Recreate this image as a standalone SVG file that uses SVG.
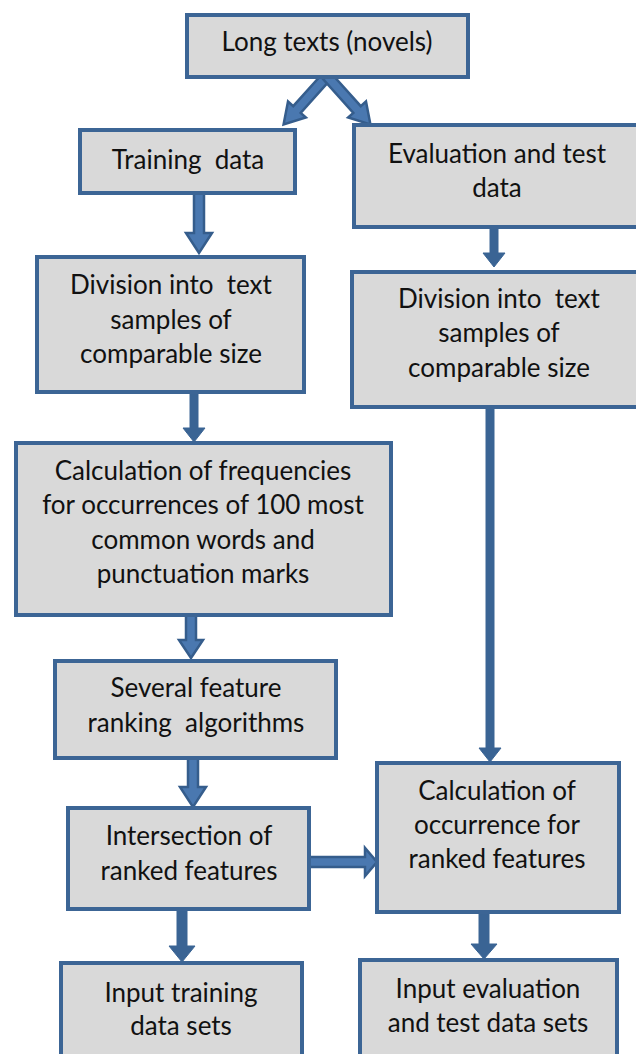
<svg xmlns="http://www.w3.org/2000/svg" width="636" height="1054" viewBox="0 0 636 1054">
<style>
.box{fill:#d9d9d9;stroke:#3c6595;stroke-width:4}
.t{font-family:Lato,"Liberation Sans",sans-serif;font-size:26px;fill:#111;text-anchor:middle;white-space:pre}
.arr{fill:#4a78b0;stroke:#355d8c;stroke-width:2.5;stroke-linejoin:miter}
.arrs{fill:#3a6494;stroke:#3a6494;stroke-width:1}
</style>
<rect width="636" height="1054" fill="#ffffff"/>
<g id="connectors">
  <path class="arr" transform="translate(327,76) rotate(41.9)" d="M -5 0 L 5 0 L 5 45 L 12 45 L 0 65 L -12 45 L -5 45 Z"/>
  <path class="arr" transform="translate(327,76) rotate(-41.9)" d="M -5 0 L 5 0 L 5 45 L 12 45 L 0 65 L -12 45 L -5 45 Z"/>
  <path class="arr" d="M 194 193 L 204 193 L 204 233 L 212 233 L 199 253 L 186 233 L 194 233 Z"/>
  <path class="arrs" d="M 490 228 L 498 228 L 498 253 L 505 253 L 494 267 L 483 253 L 490 253 Z"/>
  <path class="arrs" d="M 190 392 L 198 392 L 198 428 L 205 428 L 194 442 L 183 428 L 190 428 Z"/>
  <path class="arrs" d="M 486 407 L 494 407 L 494 748 L 501 748 L 490 762 L 479 748 L 486 748 Z"/>
  <path class="arr" d="M 186 615 L 196 615 L 196 640 L 203 640 L 191 658 L 179 640 L 186 640 Z"/>
  <path class="arr" d="M 188 758 L 198 758 L 198 787 L 206 787 L 193 807 L 180 787 L 188 787 Z"/>
  <path class="arr" d="M 309 857 L 365 857 L 365 848 L 377 862 L 365 876 L 365 867 L 309 867 Z"/>
  <path class="arrs" d="M 177 909 L 187 909 L 187 946 L 195 946 L 182 962 L 169 946 L 177 946 Z"/>
  <path class="arrs" d="M 479 912 L 489 912 L 489 944 L 497 944 L 484 959 L 471 944 L 479 944 Z"/>
</g>
<g id="n1"><rect class="box" x="187" y="15" width="281" height="62"/><text class="t" x="327" y="51">Long texts (novels)</text></g>
<g id="n2"><rect class="box" x="80" y="130" width="215" height="63"/><text class="t" x="188" y="169">Training  data</text></g>
<g id="n3"><rect class="box" x="354" y="125" width="290" height="102"/><text class="t" x="497" y="163">Evaluation and test</text><text class="t" x="497" y="197">data</text></g>
<g id="n4"><rect class="box" x="37" y="257" width="267" height="135"/><text class="t" x="171" y="294">Division into  text</text><text class="t" x="171" y="329">samples of</text><text class="t" x="171" y="363">comparable size</text></g>
<g id="n5"><rect class="box" x="352" y="272" width="292" height="135"/><text class="t" x="499" y="308">Division into  text</text><text class="t" x="499" y="342">samples of</text><text class="t" x="499" y="377">comparable size</text></g>
<g id="n6"><rect class="box" x="16" y="443" width="375" height="172"/><text class="t" x="203" y="480">Calculation of frequencies</text><text class="t" x="203" y="514">for occurrences of 100 most</text><text class="t" x="203" y="549">common words and</text><text class="t" x="203" y="583">punctuation marks</text></g>
<g id="n7"><rect class="box" x="55" y="661" width="281" height="97"/><text class="t" x="196" y="697">Several feature</text><text class="t" x="196" y="732">ranking  algorithms</text></g>
<g id="n8"><rect class="box" x="68" y="808" width="241" height="101"/><text class="t" x="189" y="845">Intersection of</text><text class="t" x="189" y="880">ranked features</text></g>
<g id="n9"><rect class="box" x="377" y="763" width="242" height="149"/><text class="t" x="497" y="800">Calculation of</text><text class="t" x="497" y="834">occurrence for</text><text class="t" x="497" y="868">ranked features</text></g>
<g id="n10"><rect class="box" x="61" y="963" width="241" height="100"/><text class="t" x="181" y="1002">Input training</text><text class="t" x="181" y="1035">data sets</text></g>
<g id="n11"><rect class="box" x="360" y="960" width="257" height="103"/><text class="t" x="488" y="998">Input evaluation</text><text class="t" x="488" y="1032">and test data sets</text></g>
</svg>
